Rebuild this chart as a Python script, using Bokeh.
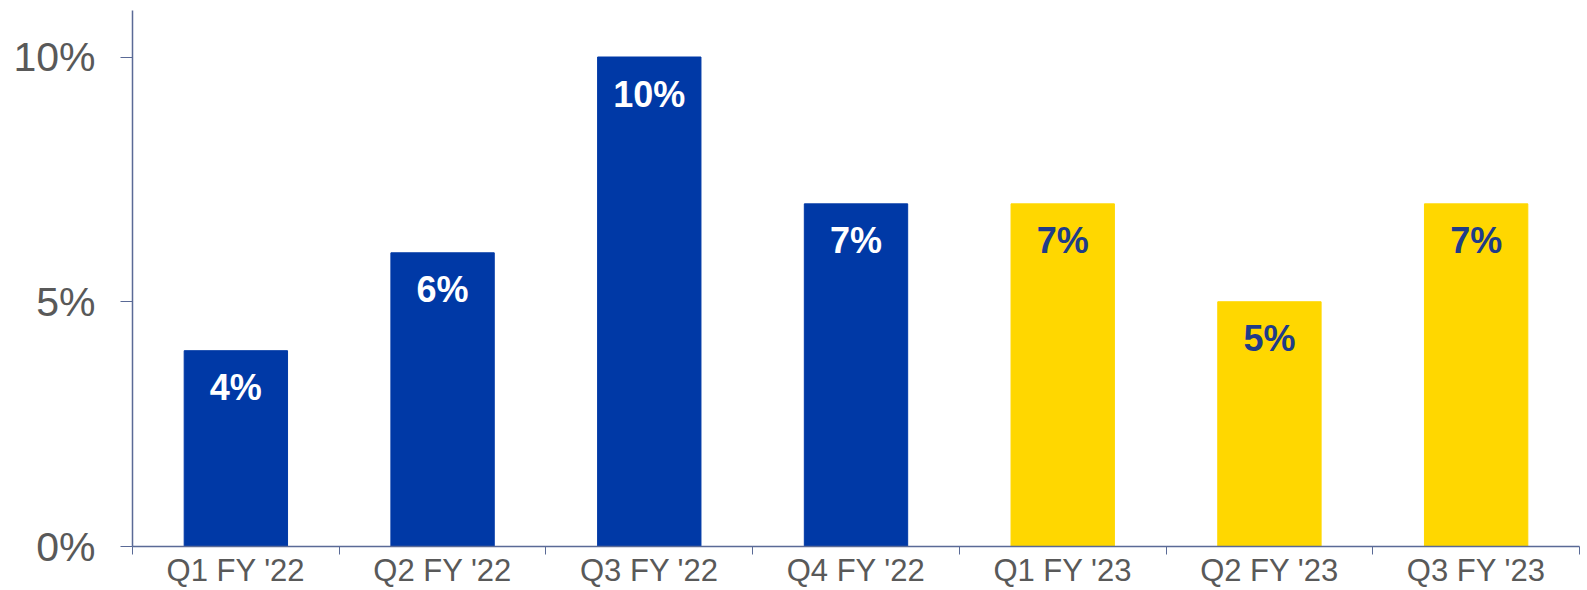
import numpy as np
from bokeh.plotting import figure
from bokeh.models import ColumnDataSource, Range1d, FixedTicker
from bokeh.core.properties import value
from bokeh.embed import file_html
from bokeh.resources import INLINE

categories = ["Q1 FY '22", "Q2 FY '22", "Q3 FY '22", "Q4 FY '22", "Q1 FY '23", "Q2 FY '23", "Q3 FY '23"]
growth = [4, 6, 10, 7, 7, 5, 7]
bar_colors = ["#0039A6", "#0039A6", "#0039A6", "#0039A6", "#FFD700", "#FFD700", "#FFD700"]
label_colors = ["#FFFFFF", "#FFFFFF", "#FFFFFF", "#FFFFFF", "#1F3C88", "#1F3C88", "#1F3C88"]
y_ticks = [0, 5, 10]

x = np.arange(len(categories)) + 0.5
src = ColumnDataSource(dict(
    x=x, top=growth, color=bar_colors, lcolor=label_colors,
    label=[f"{v}%" for v in growth],
))

p = figure(width=1587, height=590, output_backend="svg", toolbar_location=None,
           x_range=Range1d(0, len(categories)), y_range=Range1d(0, 10.95),
           min_border_left=132, min_border_right=8, min_border_top=10, min_border_bottom=42)
p.outline_line_color = None
p.grid.grid_line_color = None
p.background_fill_color = "white"

p.vbar(x="x", top="top", width=0.5, bottom=0, color="color", source=src)
p.text(x="x", y="top", text="label", text_color="lcolor", source=src,
       text_font=value("Liberation Sans"), text_font_style="bold",
       text_font_size="36px", text_align="center", text_baseline="middle",
       y_offset=37)

axis_color = "#5A6A96"
xa = p.xaxis[0]
xa.ticker = FixedTicker(ticks=list(x), minor_ticks=list(np.arange(len(categories) + 1)))
xa.major_label_overrides = {float(xi): c for xi, c in zip(x, categories)}
xa.major_tick_line_color = None
xa.major_tick_out = 8
xa.major_tick_in = 0
xa.minor_tick_line_color = axis_color
xa.minor_tick_out = 8
xa.minor_tick_in = 0
xa.axis_line_color = axis_color
xa.axis_line_width = 1.5
xa.major_label_text_font = "Liberation Sans"
xa.major_label_text_font_size = "31px"
xa.major_label_text_color = "#595959"
xa.major_label_standoff = -2

ya = p.yaxis[0]
ya.ticker = FixedTicker(ticks=y_ticks, minor_ticks=[])
ya.major_label_overrides = {t: f"{t}%" for t in y_ticks}
ya.major_tick_out = 12
ya.major_tick_in = 0
ya.major_tick_line_color = axis_color
ya.axis_line_color = axis_color
ya.axis_line_width = 1.5
ya.minor_tick_line_color = None
ya.major_label_text_font = "Liberation Sans"
ya.major_label_text_font_size = "41px"
ya.major_label_text_color = "#595959"
ya.major_label_standoff = 25

open("out.html", "w").write(file_html(p, INLINE))
